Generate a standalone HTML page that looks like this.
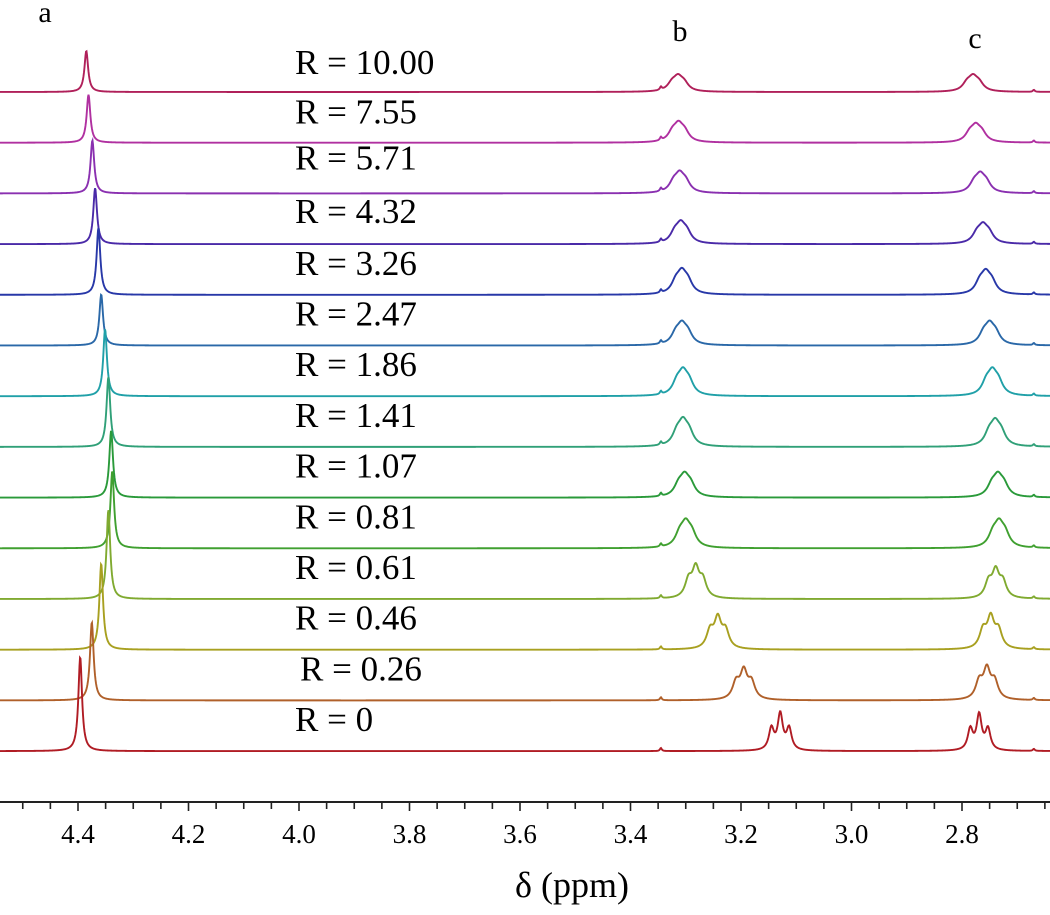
<!DOCTYPE html>
<html><head><meta charset="utf-8"><style>
html,body{margin:0;padding:0;background:#fff;}
svg{display:block;}
text{font-family:"Liberation Serif","DejaVu Serif",serif;}
</style></head><body>
<svg id="chart" width="1050" height="915" viewBox="0 0 1050 915" xmlns="http://www.w3.org/2000/svg" font-family="Liberation Serif, serif">
<g id="traces"></g>
<g id="labels"></g>
<g id="axis"></g>
<text x="45" y="22" font-size="30" text-anchor="middle" font-family="Liberation Serif, serif">a</text>
<text x="680" y="41" font-size="30" text-anchor="middle" font-family="Liberation Serif, serif">b</text>
<text x="975" y="48" font-size="30" text-anchor="middle" font-family="Liberation Serif, serif">c</text>
<text x="572" y="897" font-size="36" text-anchor="middle" font-family="Liberation Serif, serif">δ (ppm)</text>
</svg>
<script>
// data (top trace first)
const ratios = ["10.00","7.55","5.71","4.32","3.26","2.47","1.86","1.41","1.07","0.81","0.61","0.46","0.26","0"];
const shiftA = [4.385,4.381,4.374,4.369,4.363,4.358,4.351,4.345,4.340,4.338,4.345,4.358,4.375,4.396];
const heightA = [41,48,53,56,67,51,67,70,67,77,89,86,78,94];
const shiftB = [3.314,3.313,3.311,3.309,3.307,3.307,3.305,3.305,3.302,3.300,3.282,3.242,3.195,3.129];
const heightB = [18,22,23,24,27,25,29,30,26,30,36,36,34,40];
const shiftC = [2.780,2.775,2.767,2.762,2.757,2.750,2.745,2.740,2.735,2.733,2.739,2.748,2.755,2.769];
const heightC = [18,20,22,22,26,25,29,29,26,30,33,37,36,39];
const couplingJ = [0.011,0.011,0.011,0.011,0.011,0.011,0.011,0.011,0.011,0.011,0.013,0.014,0.014,0.016];
const colors = ["#b0205a","#b030a0","#8a30b0","#4a2aa8","#2838a8","#2a68a8","#20a0a8","#30a078","#2a9a3a","#40a030","#80aa30","#a8a020","#b0602a","#b01c24"];
const xTicks = [4.4,4.2,4.0,3.8,3.6,3.4,3.2,3.0,2.8];
const xTickLabels = ["4.4","4.2","4.0","3.8","3.6","3.4","3.2","3.0","2.8"];

const NS="http://www.w3.org/2000/svg";
const X0=78, PX=552.5;
function xScale(d){return X0+(4.4-d)*PX;}
function xInv(x){return 4.4-(x-X0)/PX;}
const BASE0=92, STEP=50.7;
function yBase(i){return BASE0+i*STEP;}
function lor(d,c,w){const t=(d-c)/w;return 1/(1+t*t);}
function mult(d,c,J,w){return 0.6*lor(d,c-J,w)+lor(d,c,w)+0.6*lor(d,c+J,w);}
const traces=document.getElementById('traces');
for(let i=0;i<ratios.length;i++){
  const J=couplingJ[i], w=J>0.015?0.0055:(J>0.012?0.0075:0.0095);
  const nB=mult(shiftB[i],shiftB[i],J,w), nC=mult(shiftC[i],shiftC[i],J,w);
  let d="";
  for(let x=0;x<=1050;x+=0.5){
    const dl=xInv(x);
    let v=heightA[i]*lor(dl,shiftA[i],0.004)
      +heightB[i]*mult(dl,shiftB[i],J,w)/nB
      +heightC[i]*mult(dl,shiftC[i],J,w)/nC
      +3*lor(dl,3.345,0.002)+2*lor(dl,2.67,0.002);
    d+=(x===0?"M":"L")+x.toFixed(1)+","+(yBase(i)-v).toFixed(2);
  }
  const p=document.createElementNS(NS,'path');
  p.setAttribute('d',d);p.setAttribute('fill','none');
  p.setAttribute('stroke',colors[i]);p.setAttribute('stroke-width','1.9');
  
  
  traces.appendChild(p);
  const t=document.createElementNS(NS,'text');
  t.setAttribute('x',i===12?300:295);
  t.setAttribute('y',yBase(i)-18+(i===0?0:i<4?(i===1?-1:i===2?-6:-3):-2));
  t.setAttribute('font-size','35');
  t.setAttribute('font-family','Liberation Serif, serif');
  t.textContent='R = '+ratios[i];
  
  
  document.getElementById('labels').appendChild(t);
}
const axis=document.getElementById('axis');
const AY=802;
const line=document.createElementNS(NS,'line');
line.setAttribute('x1',0);line.setAttribute('x2',1050);line.setAttribute('y1',AY);line.setAttribute('y2',AY);
line.setAttribute('stroke','#222');line.setAttribute('stroke-width','2');


axis.appendChild(line);
for(let k=-2;k<=40;k++){
  const dv=4.4-k*0.05, x=xScale(dv);
  if(x<0||x>1050)continue;
  const major=(k%4===0);
  const tk=document.createElementNS(NS,'line');
  tk.setAttribute('x1',x);tk.setAttribute('x2',x);tk.setAttribute('y1',AY);tk.setAttribute('y2',AY+(major?9:7));
  tk.setAttribute('stroke','#222');tk.setAttribute('stroke-width','1.6');
  
  
  axis.appendChild(tk);
}
xTicks.forEach((v,j)=>{
  const t=document.createElementNS(NS,'text');
  t.setAttribute('x',xScale(v));t.setAttribute('y',843);
  t.setAttribute('font-size','27');t.setAttribute('text-anchor','middle');
  t.setAttribute('font-family','Liberation Serif, serif');
  t.textContent=xTickLabels[j];
  
  
  axis.appendChild(t);
});
</script>
</body></html>
